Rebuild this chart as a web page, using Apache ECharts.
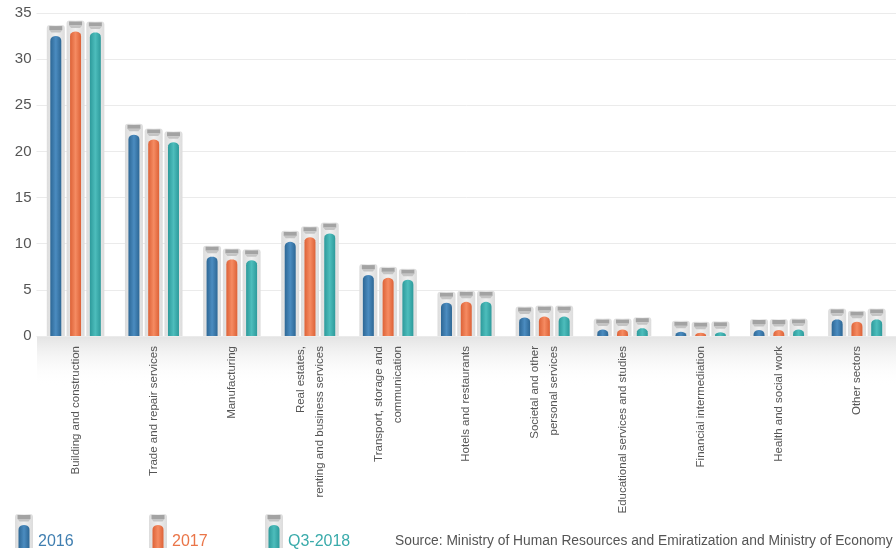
<!DOCTYPE html>
<html>
<head>
<meta charset="utf-8">
<script src="https://cdn.jsdelivr.net/npm/echarts@6/dist/echarts.min.js"></script>
<style>
  html, body { margin: 0; padding: 0; background: #fff; }
  #chart { width: 896px; height: 553px; }
</style>
</head>
<body>
<div id="chart"></div>
<script>
// Sectors (x axis)
const categories = [
  'Building and construction',
  'Trade and repair services',
  'Manufacturing',
  'Real estates,\nrenting and business services',
  'Transport, storage and\ncommunication',
  'Hotels and restaurants',
  'Societal and other\npersonal services',
  'Educational services and studies',
  'Financial intermediation',
  'Health and social work',
  'Other sectors'
];

// Share per sector (%)
const values2016 = [32.5, 21.8, 8.6, 10.2, 6.6, 3.6, 2.0, 0.7, 0.45, 0.65, 1.8];
const values2017 = [33.0, 21.3, 8.3, 10.7, 6.3, 3.7, 2.1, 0.7, 0.35, 0.65, 1.55];
const valuesQ3   = [32.9, 21.0, 8.2, 11.1, 6.1, 3.7, 2.1, 0.85, 0.4, 0.7, 1.8];

const seriesNames = ['2016', '2017', 'Q3-2018'];
const yTicks = { min: 0, max: 35, interval: 5 };

const palette = [
  { edge: '#2d6795', mid: '#4b8cc0', text: '#3f7eb0' },
  { edge: '#dd6237', mid: '#f58b62', text: '#ea7548' },
  { edge: '#2d9a9b', mid: '#4dbdbc', text: '#3aabab' }
];

function hGrad(a, b) {
  return new echarts.graphic.LinearGradient(0, 0, 1, 0, [
    { offset: 0, color: a }, { offset: 0.5, color: b }, { offset: 1, color: a }
  ]);
}

// Dome-topped tube outline (used for bars and legend keys)
function tubePoints(cx, yTop, yBase, w) {
  const pts = [];
  const h = Math.max(0, yBase - yTop);
  const dome = Math.min(5, h);
  pts.push([cx - w / 2, yBase]);
  const steps = 10;
  for (let i = 0; i <= steps; i++) {
    const t = Math.PI - (Math.PI * i) / steps;
    const x = cx + (w / 2) * Math.cos(t);
    const y = yTop + dome - dome * Math.pow(Math.sin(t), 0.8);
    pts.push([x, y]);
  }
  pts.push([cx + w / 2, yBase]);
  return pts;
}

// Gray sleeve + cap + coloured tube
function tubeGroup(cx, valueTop, yBase, c) {
  const capTop = valueTop - 10;
  return [
    {
      type: 'rect',
      shape: { x: cx - 9, y: capTop - 1, width: 18, height: yBase - capTop + 1, r: [3, 3, 0, 0] },
      style: { fill: hGrad('#dcdcdc', '#f0f0f0') }
    },
    {
      type: 'rect',
      shape: { x: cx - 6.5, y: capTop, width: 13, height: 4 },
      style: { fill: '#a3a3a3' }
    },
    {
      type: 'polygon',
      shape: { points: [[cx - 6.5, capTop + 4], [cx + 6.5, capTop + 4], [cx + 4.5, capTop + 6.5], [cx - 4.5, capTop + 6.5]] },
      style: { fill: '#c4c4c4' }
    },
    {
      type: 'polygon',
      shape: { points: tubePoints(cx, valueTop, yBase, 11) },
      style: { fill: hGrad(c.edge, c.mid) }
    }
  ];
}

function makeRender(idx) {
  return function (params, api) {
    const ci = api.value(0);
    const v = api.value(1);
    const base = api.coord([ci, 0]);
    const top = api.coord([ci, v]);
    const band = api.size([1, 0])[0];
    const cx = base[0] + (idx - 1) * band * 0.253;
    return { type: 'group', children: tubeGroup(cx, top[1], base[1], palette[idx]) };
  };
}

const seriesData = [values2016, values2017, valuesQ3];

const series = seriesData.map((vals, i) => ({
  name: seriesNames[i],
  type: 'custom',
  renderItem: makeRender(i),
  data: vals.map((v, k) => [k, v]),
  encode: { x: 0, y: 1 },
  z: 3,
  itemStyle: { color: palette[i].text }
}));

// Legend keys drawn at the foot of the chart
const legendX = [24, 158, 274];
const legendItems = [];
seriesNames.forEach((n, i) => {
  const cx = legendX[i];
  legendItems.push({
    type: 'group',
    z: 10,
    children: tubeGroup(cx, 525, 548, palette[i]).concat([{
      type: 'text',
      style: {
        x: cx + 14, y: 542,
        text: n,
        fill: palette[i].text,
        fontSize: 16,
        fontFamily: 'Liberation Sans, Arial, sans-serif',
        verticalAlign: 'middle',
        align: 'left'
      }
    }])
  });
});

const chart = echarts.init(document.getElementById('chart'));
chart.setOption({
  animation: false,
  backgroundColor: '#fff',
  grid: { left: 36.5, top: 13, width: 869, height: 323, containLabel: false },
  xAxis: {
    type: 'category',
    data: categories,
    axisLine: { show: false },
    axisTick: { show: false },
    splitLine: { show: false },
    axisLabel: {
      rotate: 90,
      interval: 0,
      margin: 10,
      color: '#555',
      fontSize: 11.5,
      lineHeight: 19,
      fontFamily: 'Liberation Sans, Arial, sans-serif'
    }
  },
  yAxis: {
    type: 'value',
    min: yTicks.min,
    max: yTicks.max,
    interval: yTicks.interval,
    axisLine: { show: false },
    axisTick: { show: false },
    splitLine: { lineStyle: { color: '#ebebeb', width: 1 } },
    axisLabel: {
      color: '#555',
      fontSize: 15,
      margin: 5,
      fontFamily: 'Liberation Sans, Arial, sans-serif'
    }
  },
  graphic: [
    {
      type: 'rect',
      left: 37, top: 336,
      z: -5,
      shape: { width: 870, height: 50 },
      style: {
        fill: new echarts.graphic.LinearGradient(0, 0, 0, 1, [
          { offset: 0, color: '#e3e3e3' },
          { offset: 1, color: 'rgba(255,255,255,0)' }
        ])
      }
    },
    ...legendItems,
    {
      type: 'text',
      left: 395, top: 534,
      style: {
        text: 'Source: Ministry of Human Resources and Emiratization and Ministry of Economy',
        fill: '#555',
        fontSize: 13.8,
        fontFamily: 'Liberation Sans, Arial, sans-serif'
      }
    }
  ],
  series: series
});
</script>
</body>
</html>
